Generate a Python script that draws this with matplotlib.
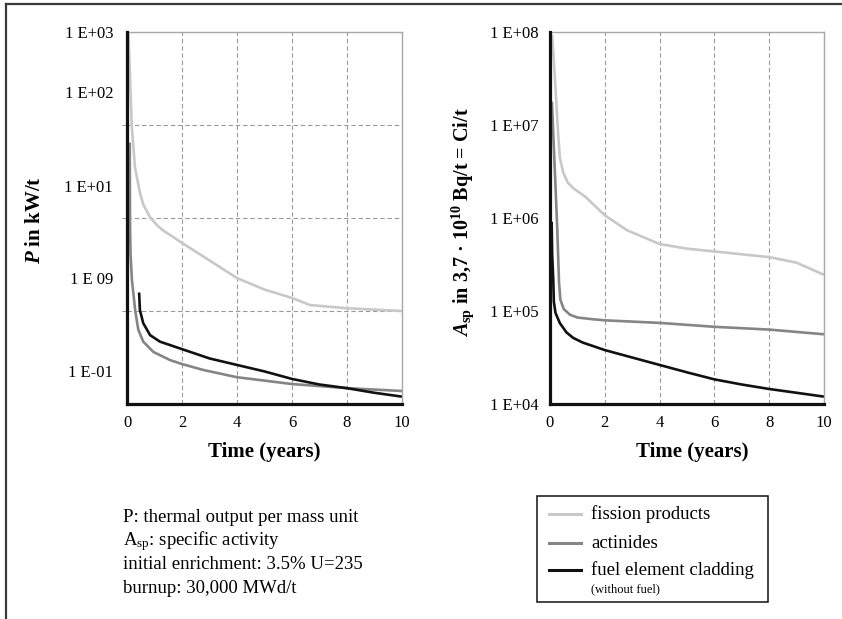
import matplotlib
matplotlib.use("Agg")
import matplotlib.pyplot as plt
from matplotlib.ticker import FixedLocator, NullFormatter
from matplotlib.lines import Line2D
from matplotlib.patches import Rectangle

plt.rcParams['font.family'] = ['Liberation Serif', 'DejaVu Serif']
plt.rcParams['mathtext.fontset'] = 'custom'
plt.rcParams['mathtext.rm'] = 'Liberation Serif'
plt.rcParams['mathtext.it'] = 'Liberation Serif:italic:bold'
plt.rcParams['mathtext.bf'] = 'Liberation Serif:bold'

# ---------------- data: thermal output P (kW/t) ----------------
p_fission_t = [0.05, 0.1, 0.17, 0.29, 0.47, 0.6, 0.84, 1.1, 1.3, 2.0, 3.0, 4.0, 5.0, 6.0, 6.65, 8.0, 10.0]
p_fission_v = [1000, 400, 100, 35, 18.6, 13.8, 10.2, 8.3, 7.4, 5.4, 3.5, 2.26, 1.70, 1.38, 1.16, 1.07, 1.0]

p_actin_t = [0.10, 0.11, 0.13, 0.18, 0.30, 0.41, 0.59, 0.96, 1.56, 2.0, 2.78, 4.0, 6.0, 8.0, 10.0]
p_actin_v = [64.6, 8.3, 4.0, 2.14, 1.0, 0.631, 0.468, 0.363, 0.297, 0.269, 0.232, 0.194, 0.164, 0.148, 0.138]

p_clad_t = [0.44, 0.47, 0.59, 0.84, 1.2, 2.0, 3.0, 4.0, 5.0, 6.0, 7.0, 8.0, 9.0, 10.0]
p_clad_v = [1.58, 1.02, 0.741, 0.55, 0.468, 0.389, 0.309, 0.263, 0.224, 0.186, 0.162, 0.148, 0.132, 0.120]

# ---------------- data: specific activity A_sp (Ci/t) ----------------
a_fission_t = [0.08, 0.2, 0.3, 0.36, 0.48, 0.65, 0.85, 1.28, 2.0, 2.8, 4.0, 5.0, 6.0, 7.0, 8.0, 9.0, 10.0]
a_fission_v = [9.33e7, 2.51e7, 7.76e6, 4.47e6, 3.09e6, 2.40e6, 2.09e6, 1.70e6, 1.07e6, 7.41e5,
               5.25e5, 4.68e5, 4.37e5, 4.07e5, 3.80e5, 3.31e5, 2.45e5]

a_actin_t = [0.07, 0.26, 0.33, 0.38, 0.5, 0.73, 1.0, 1.6, 2.0, 4.0, 6.0, 8.0, 10.0]
a_actin_v = [1.78e7, 8.32e5, 2.0e5, 1.32e5, 1.05e5, 9.12e4, 8.51e4, 8.13e4, 7.94e4, 7.45e4, 6.76e4, 6.31e4, 5.62e4]

a_clad_t = [0.06, 0.08, 0.12, 0.14, 0.2, 0.36, 0.6, 0.85, 1.2, 1.6, 2.0, 3.0, 4.0, 5.0, 6.0, 7.0, 8.0, 9.0, 10.0]
a_clad_v = [9.12e5, 3.98e5, 2.14e5, 1.26e5, 9.55e4, 7.41e4, 5.89e4, 5.13e4, 4.57e4, 4.17e4, 3.80e4,
            3.16e4, 2.63e4, 2.19e4, 1.84e4, 1.62e4, 1.45e4, 1.32e4, 1.20e4]

x_ticks = [0, 2, 4, 6, 8, 10]
left_ytick_labels = ["1 E+03", "1 E+02", "1 E+01", "1 E 09", "1 E-01"]
right_ytick_labels = ["1 E+08", "1 E+07", "1 E+06", "1 E+05", "1 E+04"]
series_names = ["fission products", "actinides", "fuel element cladding"]
notes = ["P: thermal output per mass unit",
         r"A$_{\rm sp}$: specific activity",
         "initial enrichment: 3.5% U=235",
         "burnup: 30,000 MWd/t"]

# ---------------- styling ----------------
C_LIGHT = '#c8c8c8'
C_MID = '#858585'
C_DARK = '#111111'
LW = 1.9
GRID_C = '#9a9a9a'

W, H = 842, 619
fig = plt.figure(figsize=(W / 100, H / 100), dpi=100)


def fx(px):
    return px / W


def fy(py):
    return 1 - py / H


ax1 = fig.add_axes([fx(127), fy(404), 275 / W, 372 / H])
ax2 = fig.add_axes([fx(550), fy(404), 274 / W, 372 / H])


def style(ax, ylo, yhi, label_pos, labels, grid_pos, pad):
    ax.set_yscale('log')
    ax.set_xlim(0, 10)
    ax.set_ylim(ylo, yhi)
    ax.set_axisbelow(True)
    ax.set_xticks(x_ticks)
    ax.set_xticklabels([str(v) for v in x_ticks])
    ax.yaxis.set_major_locator(FixedLocator(label_pos))
    ax.set_yticklabels(labels)
    ax.yaxis.set_minor_locator(FixedLocator(grid_pos))
    ax.yaxis.set_minor_formatter(NullFormatter())
    ax.tick_params(axis='x', which='major', length=0, pad=8, labelsize=12)
    ax.tick_params(axis='y', which='major', length=0, pad=pad, labelsize=12)
    ax.tick_params(axis='y', which='minor', length=3.5, width=0.8, color=GRID_C)
    ax.grid(True, which='major', axis='x', color=GRID_C, lw=0.8, ls=(0, (4, 2.5)))
    ax.grid(True, which='minor', axis='y', color=GRID_C, lw=0.8, ls=(0, (4, 2.5)))
    for s in ('left', 'bottom'):
        ax.spines[s].set_color('#111111')
        ax.spines[s].set_linewidth(2.3)
        ax.spines[s].set_zorder(5)
    for s in ('top', 'right'):
        ax.spines[s].set_color('#a8a8a8')
        ax.spines[s].set_linewidth(1.0)


style(ax1, 0.1, 1000, [1000, 224, 22.2, 2.25, 0.228], left_ytick_labels,
      [1000, 100, 10, 1], 10)
style(ax2, 1e4, 1e8, [1e8, 1e7, 1e6, 1e5, 1e4], right_ytick_labels,
      [1e8, 1e7, 1e6, 1e5], 8.5)

ax1.plot(p_fission_t, p_fission_v, color=C_LIGHT, lw=LW, solid_capstyle='butt')
ax1.plot(p_actin_t, p_actin_v, color=C_MID, lw=LW, solid_capstyle='butt')
ax1.plot(p_clad_t, p_clad_v, color=C_DARK, lw=LW, solid_capstyle='butt')

ax2.plot(a_fission_t, a_fission_v, color=C_LIGHT, lw=LW, solid_capstyle='butt')
ax2.plot(a_actin_t, a_actin_v, color=C_MID, lw=LW, solid_capstyle='butt')
ax2.plot(a_clad_t, a_clad_v, color=C_DARK, lw=LW, solid_capstyle='butt')

ax1.set_xlabel("Time (years)", fontsize=15, fontweight='bold', va='center')
ax1.xaxis.set_label_coords(0.50, -0.13)
ax2.set_xlabel("Time (years)", fontsize=15, fontweight='bold', va='center')
ax2.xaxis.set_label_coords(0.52, -0.13)

ax1.set_ylabel(r"$P$ in kW/t", fontsize=15, fontweight='bold', va='center')
ax1.yaxis.set_label_coords(-0.335, 0.495)
ax2.set_ylabel(r"$A_{\mathbf{sp}}$ in 3,7 · 10$^{\mathbf{10}}$ Bq/t = Ci/t",
               fontsize=14.5, fontweight='bold', va='center')
ax2.yaxis.set_label_coords(-0.32, 0.49)

# notes block
for i, line in enumerate(notes):
    fig.text(fx(123), fy(522 + i * 23.7), line, fontsize=13.5, ha='left', va='baseline')

# legend box
fig.add_artist(Rectangle((fx(537), fy(602)), 231 / W, 106 / H, transform=fig.transFigure,
                         fill=False, edgecolor='#111111', lw=1.1))
leg_colors = [C_LIGHT, C_MID, C_DARK]
leg_y = [514, 543, 570]
for name, c, yy in zip(series_names, leg_colors, leg_y):
    fig.add_artist(Line2D([fx(549), fx(581)], [fy(yy), fy(yy)], color=c, lw=2.2,
                          transform=fig.transFigure))
    fig.text(fx(591), fy(yy), name, fontsize=13.5, ha='left', va='center')
fig.text(fx(591), fy(589), "(without fuel)", fontsize=9, ha='left', va='center')

# outer frame (left and top edges)
fig.add_artist(Line2D([fx(6), fx(6)], [0, fy(4)], color='#3a3a3a', lw=1.6,
                      transform=fig.transFigure))
fig.add_artist(Line2D([fx(6), 1], [fy(4), fy(4)], color='#3a3a3a', lw=1.6,
                      transform=fig.transFigure))

fig.savefig("out.png", dpi=100)
